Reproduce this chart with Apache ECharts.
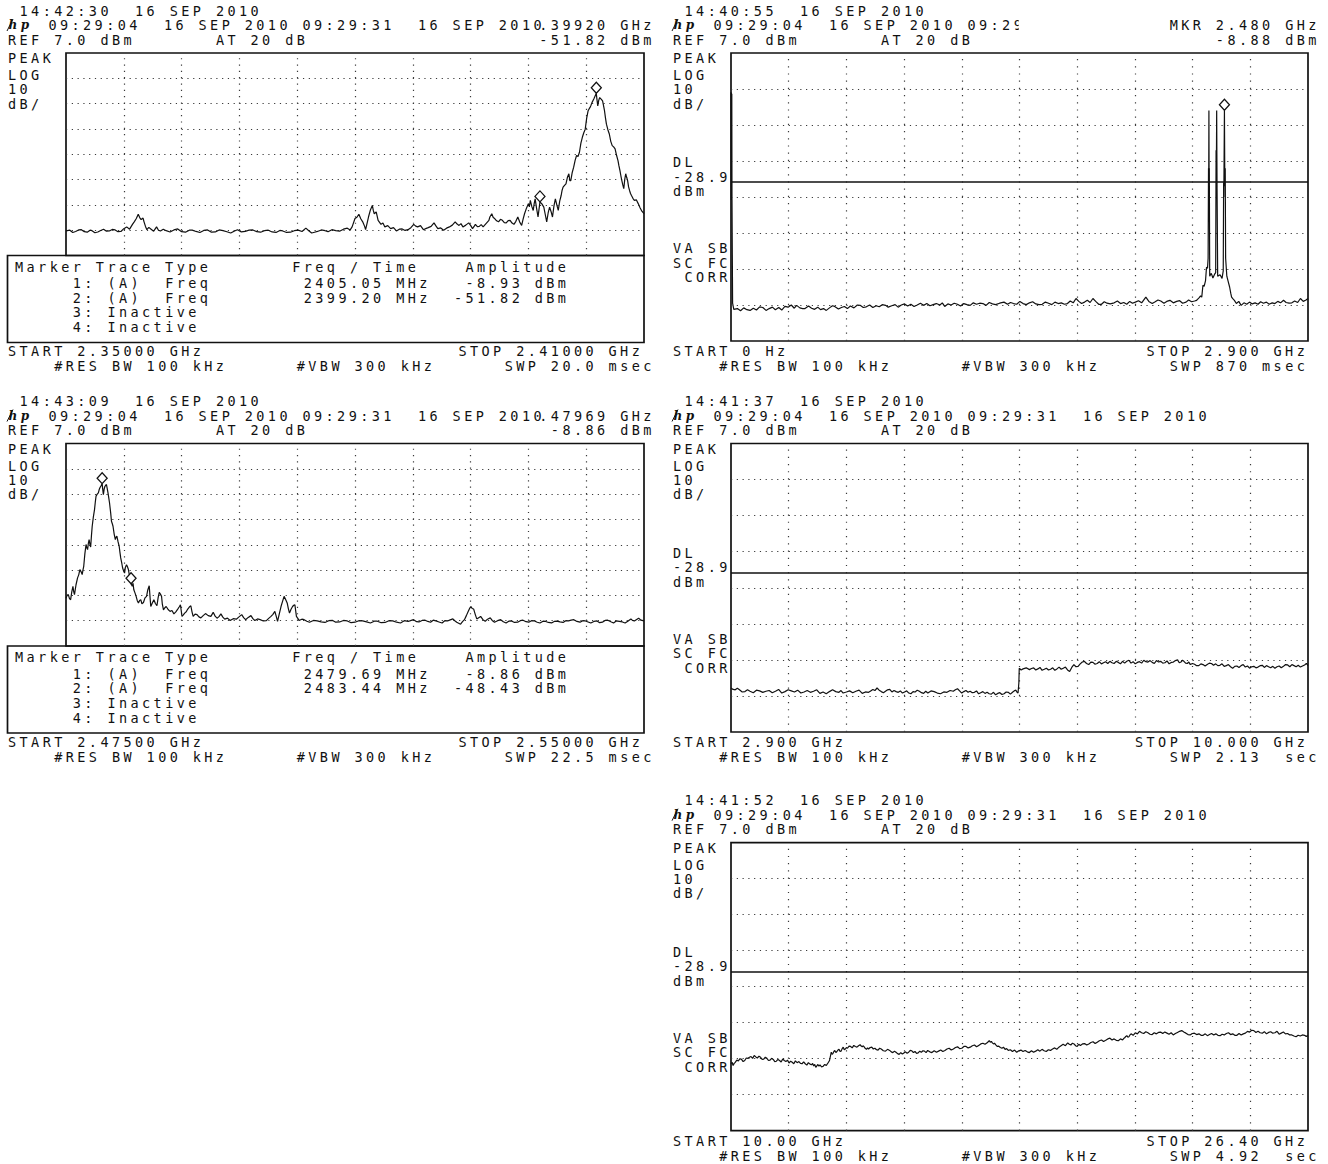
<!DOCTYPE html>
<html><head><meta charset="utf-8">
<script src="https://cdn.jsdelivr.net/npm/echarts@6/dist/echarts.min.js"></script>
<style>
html,body{margin:0;padding:0;background:#fff;}
#main{width:1328px;height:1164px;}
#main text{letter-spacing:3.42px;white-space:pre;}
</style></head><body><div id="main"></div>
<script>
// ---------------- DATA ----------------
// Panel order: A (top-left), B (top-right), C (middle-left), D (middle-right), E (bottom-right)
const stamps = ['14:42:30','14:40:55','14:43:09','14:41:37','14:41:52'];
const startText = ['START 2.35000 GHz','START 0 Hz','START 2.47500 GHz','START 2.900 GHz','START 10.00 GHz'];
const stopText = ['STOP 2.41000 GHz','STOP 2.900 GHz','STOP 2.55000 GHz','STOP 10.000 GHz','STOP 26.40 GHz'];
const stopCols = [39, 41, 39, 40, 41];
const sweepText = ['SWP 20.0 msec','SWP 870 msec','SWP 22.5 msec','SWP 2.13  sec','SWP 4.92  sec'];
const readTop = ['.39920 GHz','MKR 2.480 GHz','.47969 GHz','',''];
const readBottom = ['-51.82 dBm','-8.88 dBm','-8.86 dBm','',''];
const spanStart = [2350, 0, 2475, 2.9, 10];     // MHz, MHz, MHz, GHz, GHz
const spanStop  = [2410, 2900, 2550, 10, 26.4];
const refLevel = 7.0, dbPerDiv = 10, vDivs = 8, hDivs = 10;
const displayLine = -28.9;
const markerTableA = [['2405.05 MHz','-8.93 dBm'],['2399.20 MHz','-51.82 dBm']];
const markerTableC = [['2479.69 MHz','-8.86 dBm'],['2483.44 MHz','-48.43 dBm']];
const markersA = [[2405.05,-8.93],[2399.20,-51.82]];
const markersB = [[2480,-8.88]];
const markersC = [[2479.69,-8.86],[2483.44,-48.43]];

const traceA = [[2350.0,-63.3],[2350.4,-63.0],[2350.7,-63.9],[2351.0,-63.5],[2351.3,-62.9],[2351.6,-62.8],[2351.9,-63.6],[2352.2,-63.8],[2352.5,-63.0],[2352.7,-63.2],[2353.0,-64.0],[2353.3,-63.7],[2353.6,-63.1],[2353.9,-62.6],[2354.2,-63.4],[2354.5,-63.3],[2354.8,-62.7],[2355.1,-62.9],[2355.4,-63.6],[2355.7,-63.5],[2356.0,-62.4],[2356.3,-61.7],[2356.6,-62.6],[2356.9,-60.7],[2357.1,-59.6],[2357.3,-58.4],[2357.5,-56.7],[2357.65,-58.0],[2357.8,-58.8],[2358.0,-58.2],[2358.1,-59.7],[2358.25,-61.5],[2358.4,-62.8],[2358.6,-61.9],[2358.8,-62.5],[2359.1,-63.4],[2359.4,-61.7],[2359.6,-63.0],[2359.8,-63.3],[2360.1,-62.6],[2360.4,-63.2],[2360.8,-63.7],[2361.2,-62.9],[2361.6,-62.5],[2362.0,-63.6],[2362.4,-63.8],[2362.8,-63.0],[2363.1,-63.0],[2363.5,-63.5],[2363.9,-63.9],[2364.3,-63.1],[2364.7,-62.9],[2365.1,-63.8],[2365.5,-63.7],[2365.9,-62.9],[2366.3,-63.2],[2366.7,-63.6],[2367.1,-64.1],[2367.5,-63.3],[2367.8,-62.8],[2368.2,-63.7],[2368.6,-63.5],[2369.0,-63.0],[2369.4,-62.9],[2369.8,-63.6],[2370.2,-63.8],[2370.6,-63.2],[2371.0,-63.0],[2371.4,-63.7],[2371.8,-63.9],[2372.2,-63.1],[2372.5,-63.3],[2372.9,-63.9],[2373.3,-63.8],[2373.7,-63.2],[2374.1,-63.0],[2374.5,-63.5],[2374.9,-62.2],[2375.2,-63.2],[2375.5,-64.1],[2375.8,-63.8],[2376.1,-63.5],[2376.5,-62.9],[2376.9,-63.2],[2377.2,-63.6],[2377.6,-62.8],[2378.0,-63.2],[2378.4,-63.4],[2378.8,-62.6],[2379.2,-62.2],[2379.5,-62.9],[2379.7,-61.7],[2380.0,-58.4],[2380.2,-57.9],[2380.4,-56.7],[2380.6,-58.5],[2380.8,-59.7],[2381.0,-61.5],[2381.1,-62.8],[2381.3,-59.5],[2381.4,-57.8],[2381.6,-55.0],[2381.8,-53.2],[2381.9,-55.2],[2382.0,-56.5],[2382.2,-55.8],[2382.4,-59.1],[2382.7,-60.7],[2382.9,-60.2],[2383.1,-61.7],[2383.4,-61.2],[2383.7,-62.4],[2384.0,-62.0],[2384.3,-63.3],[2384.6,-62.6],[2384.9,-62.5],[2385.2,-63.1],[2385.5,-62.8],[2385.8,-62.0],[2386.1,-60.7],[2386.3,-61.4],[2386.5,-61.7],[2386.8,-61.2],[2387.1,-62.8],[2387.4,-62.3],[2387.6,-62.0],[2387.9,-61.5],[2388.2,-60.1],[2388.4,-61.3],[2388.6,-62.4],[2388.9,-62.1],[2389.2,-63.0],[2389.5,-62.2],[2389.8,-61.7],[2390.1,-61.0],[2390.4,-59.7],[2390.6,-60.6],[2390.8,-61.1],[2391.0,-60.4],[2391.2,-61.7],[2391.5,-61.0],[2391.8,-60.1],[2392.0,-61.1],[2392.2,-62.4],[2392.4,-61.3],[2392.5,-60.7],[2392.7,-61.6],[2392.9,-61.5],[2393.1,-60.8],[2393.3,-61.7],[2393.6,-60.4],[2393.9,-59.1],[2394.0,-57.8],[2394.2,-56.5],[2394.35,-58.0],[2394.5,-58.4],[2394.7,-59.3],[2394.9,-59.7],[2395.1,-58.7],[2395.3,-59.1],[2395.5,-60.0],[2395.7,-60.1],[2395.9,-59.2],[2396.1,-59.1],[2396.3,-60.2],[2396.5,-60.7],[2396.7,-59.5],[2396.9,-57.8],[2397.1,-59.8],[2397.3,-61.1],[2397.45,-58.6],[2397.6,-56.5],[2397.8,-54.3],[2398.0,-52.5],[2398.1,-53.8],[2398.2,-51.2],[2398.35,-53.6],[2398.5,-55.2],[2398.6,-52.5],[2398.7,-50.6],[2398.85,-54.4],[2399.0,-57.8],[2399.2,-51.82],[2399.4,-52.6],[2399.6,-53.9],[2399.75,-56.8],[2399.9,-59.7],[2400.05,-56.2],[2400.2,-53.9],[2400.35,-55.6],[2400.5,-57.8],[2400.65,-53.5],[2400.8,-50.6],[2400.95,-53.0],[2401.1,-55.2],[2401.25,-51.5],[2401.4,-49.3],[2401.5,-47.2],[2401.6,-46.0],[2401.75,-45.3],[2401.9,-44.7],[2402.05,-42.1],[2402.2,-40.7],[2402.3,-43.4],[2402.4,-43.4],[2402.55,-40.2],[2402.7,-38.1],[2402.85,-35.4],[2403.0,-33.5],[2403.15,-33.9],[2403.3,-32.2],[2403.45,-28.6],[2403.6,-26.3],[2403.75,-24.5],[2403.9,-23.1],[2404.05,-18.7],[2404.2,-15.8],[2404.3,-15.1],[2404.4,-14.5],[2404.5,-13.6],[2404.6,-12.6],[2404.8,-11.1],[2405.05,-8.93],[2405.1,-10.8],[2405.2,-13.9],[2405.3,-11.7],[2405.4,-10.6],[2405.55,-11.2],[2405.7,-11.9],[2405.8,-13.8],[2405.9,-15.8],[2406.0,-18.6],[2406.1,-21.1],[2406.25,-23.3],[2406.4,-25.0],[2406.55,-27.9],[2406.7,-29.6],[2406.85,-30.1],[2407.0,-30.9],[2407.15,-33.4],[2407.3,-35.5],[2407.4,-37.6],[2407.5,-39.4],[2407.6,-41.5],[2407.7,-43.4],[2407.8,-45.1],[2407.9,-46.6],[2408.0,-43.0],[2408.1,-40.7],[2408.2,-42.1],[2408.3,-43.4],[2408.4,-45.9],[2408.5,-47.3],[2408.6,-48.5],[2408.7,-49.3],[2408.85,-50.4],[2409.0,-51.2],[2409.2,-51.0],[2409.4,-52.5],[2409.6,-54.2],[2409.8,-55.6],[2410.0,-56.5]];

const traceB = [[0,-3.9],[1,-33.8],[2,-4.1],[3,-33.8],[4,-4.3],[5,-33.8],[8,-62.5],[14,-64.2],[32,-64.0],[48,-64.6],[64,-63.8],[80,-64.3],[96,-64.5],[112,-63.9],[128,-64.4],[144,-63.5],[160,-63.7],[176,-64.5],[192,-64.0],[208,-63.6],[223,-64.3],[240,-63.7],[255,-64.4],[271,-63.4],[287,-63.6],[303,-63.0],[318,-63.9],[330,-63.1],[346,-63.8],[360,-64.0],[372,-64.0],[390,-63.3],[405,-63.9],[420,-64.2],[436,-63.6],[450,-64.3],[465,-64.0],[479,-64.5],[495,-63.8],[510,-63.2],[521,-63.4],[540,-64.1],[555,-63.7],[570,-63.4],[585,-64.0],[600,-63.3],[618,-63.8],[635,-63.0],[649,-63.1],[665,-63.7],[680,-63.5],[697,-63.0],[713,-63.7],[730,-63.2],[745,-63.5],[760,-62.9],[777,-63.1],[790,-63.6],[808,-63.2],[825,-62.9],[840,-63.6],[856,-63.0],[872,-62.7],[888,-63.3],[904,-62.8],[920,-63.4],[936,-63.0],[952,-62.5],[968,-63.1],[984,-62.6],[1000,-63.2],[1016,-62.9],[1032,-62.6],[1050,-63.0],[1062,-62.4],[1074,-63.4],[1090,-62.7],[1106,-63.0],[1122,-62.5],[1138,-62.8],[1154,-63.3],[1170,-62.6],[1186,-62.9],[1202,-63.1],[1218,-62.4],[1234,-62.8],[1250,-62.5],[1266,-62.6],[1282,-63.1],[1298,-62.3],[1314,-62.7],[1330,-62.9],[1350,-62.5],[1372,-62.2],[1390,-62.8],[1405,-62.3],[1420,-62.6],[1436,-62.8],[1452,-62.0],[1468,-62.6],[1484,-62.9],[1500,-62.4],[1516,-62.1],[1532,-62.7],[1548,-62.9],[1564,-62.8],[1580,-62.2],[1596,-62.5],[1612,-62.9],[1628,-62.2],[1645,-62.6],[1660,-62.4],[1676,-62.8],[1691,-62.6],[1705,-61.9],[1720,-62.4],[1734,-61.2],[1748,-62.0],[1762,-62.6],[1777,-62.2],[1791,-61.7],[1805,-62.3],[1819,-61.2],[1833,-62.0],[1848,-62.8],[1862,-62.8],[1876,-62.1],[1890,-62.5],[1906,-62.7],[1926,-62.4],[1942,-61.9],[1958,-62.6],[1974,-62.3],[1989,-62.8],[2004,-62.0],[2018,-62.5],[2032,-62.2],[2048,-61.8],[2064,-62.4],[2085,-60.8],[2100,-62.0],[2117,-62.6],[2132,-62.1],[2146,-61.6],[2160,-61.9],[2176,-62.5],[2190,-62.0],[2206,-61.7],[2223,-62.4],[2240,-62.0],[2255,-61.8],[2270,-62.5],[2287,-62.2],[2300,-61.6],[2315,-62.1],[2330,-61.9],[2340,-61.7],[2352,-61.0],[2360,-60.5],[2366,-60.8],[2372,-57.5],[2378,-57.8],[2385,-56.2],[2390,-52.5],[2395,-52.8],[2398,-50.0],[2400,-25.0],[2401,-29.3],[2402,-9.0],[2403,-27.5],[2404,-25.0],[2406,-55.0],[2414,-54.2],[2422,-55.5],[2430,-54.5],[2436,-54.0],[2438,-20.0],[2439,-31.0],[2441,-9.0],[2442,-21.0],[2443,-31.0],[2446,-55.0],[2458,-54.6],[2468,-55.6],[2474,-53.5],[2476,-29.0],[2477,-33.0],[2480,-8.88],[2482,-30.0],[2484,-25.0],[2486,-50.0],[2492,-55.0],[2499,-56.5],[2506,-58.0],[2512,-59.8],[2516,-60.8],[2523,-61.3],[2530,-61.7],[2540,-62.6],[2552,-62.0],[2564,-63.1],[2578,-62.4],[2592,-62.8],[2606,-62.2],[2620,-62.7],[2634,-62.4],[2649,-62.8],[2662,-62.1],[2676,-62.5],[2691,-62.2],[2705,-62.8],[2720,-62.4],[2734,-62.6],[2748,-62.0],[2762,-62.4],[2777,-61.7],[2790,-62.3],[2805,-62.5],[2819,-62.4],[2833,-61.9],[2848,-62.3],[2862,-61.2],[2876,-62.0],[2890,-61.6],[2900,-61.2]];

const traceC = [[2475.0,-54.1],[2475.15,-53.0],[2475.3,-52.7],[2475.45,-54.3],[2475.6,-54.7],[2475.75,-51.6],[2475.9,-49.4],[2476.0,-51.5],[2476.1,-52.7],[2476.3,-48.8],[2476.5,-46.1],[2476.65,-44.9],[2476.8,-42.8],[2476.95,-43.6],[2477.1,-44.8],[2477.2,-43.0],[2477.3,-41.5],[2477.45,-36.5],[2477.6,-32.9],[2477.7,-34.2],[2477.8,-34.9],[2477.9,-32.5],[2478.0,-31.0],[2478.1,-32.8],[2478.2,-33.9],[2478.3,-29.5],[2478.4,-25.7],[2478.55,-22.0],[2478.7,-19.1],[2478.8,-16.2],[2478.9,-13.8],[2479.05,-13.0],[2479.2,-12.5],[2479.3,-11.3],[2479.4,-10.5],[2479.55,-9.7],[2479.69,-8.86],[2479.77,-11.2],[2479.85,-13.2],[2479.95,-11.0],[2480.05,-9.9],[2480.15,-9.5],[2480.25,-9.2],[2480.35,-10.8],[2480.45,-12.5],[2480.55,-14.5],[2480.65,-16.5],[2480.8,-20.5],[2480.9,-23.7],[2481.0,-24.6],[2481.1,-25.7],[2481.25,-28.8],[2481.4,-31.0],[2481.5,-30.0],[2481.6,-29.6],[2481.75,-31.8],[2481.9,-33.6],[2482.0,-36.0],[2482.1,-38.2],[2482.25,-40.5],[2482.35,-42.2],[2482.5,-43.6],[2482.6,-44.2],[2482.7,-42.0],[2482.85,-40.9],[2482.95,-41.5],[2483.1,-42.8],[2483.25,-45.5],[2483.44,-48.43],[2483.6,-49.4],[2483.7,-48.2],[2483.8,-50.8],[2483.95,-52.0],[2484.1,-53.4],[2484.25,-55.1],[2484.4,-56.0],[2484.55,-55.0],[2484.7,-54.7],[2484.85,-56.3],[2485.05,-55.8],[2485.25,-54.0],[2485.45,-53.4],[2485.6,-51.0],[2485.8,-49.2],[2485.9,-53.5],[2486.0,-57.4],[2486.2,-56.0],[2486.4,-54.7],[2486.6,-56.2],[2486.8,-57.1],[2486.95,-54.0],[2487.1,-51.8],[2487.25,-52.5],[2487.4,-53.4],[2487.5,-56.5],[2487.65,-58.7],[2487.8,-58.0],[2488.0,-57.4],[2488.25,-58.6],[2488.5,-59.3],[2488.75,-59.0],[2489.0,-60.3],[2489.25,-59.5],[2489.5,-58.4],[2489.7,-57.5],[2489.85,-56.7],[2490.05,-61.3],[2490.2,-60.8],[2490.4,-60.0],[2490.6,-59.5],[2490.8,-58.4],[2491.0,-57.6],[2491.2,-57.1],[2491.35,-59.5],[2491.5,-61.3],[2491.75,-60.4],[2492.0,-60.6],[2492.25,-61.5],[2492.5,-61.9],[2492.8,-61.0],[2493.1,-60.2],[2493.45,-61.0],[2493.8,-61.3],[2493.95,-60.5],[2494.1,-59.7],[2494.35,-61.2],[2494.6,-62.0],[2494.85,-61.4],[2495.1,-60.3],[2495.35,-61.6],[2495.6,-62.4],[2495.95,-62.0],[2496.3,-62.9],[2496.7,-62.2],[2497.1,-62.4],[2497.45,-61.5],[2497.8,-60.6],[2498.05,-61.8],[2498.3,-62.6],[2498.65,-61.7],[2499.0,-61.0],[2499.25,-62.2],[2499.5,-62.9],[2499.85,-62.3],[2500.2,-62.6],[2500.6,-63.1],[2501.0,-63.0],[2501.3,-62.1],[2501.6,-61.3],[2501.85,-60.5],[2502.1,-59.3],[2502.3,-61.5],[2502.45,-63.3],[2502.7,-60.0],[2502.9,-57.4],[2503.1,-55.4],[2503.3,-53.4],[2503.5,-54.6],[2503.7,-56.0],[2503.85,-58.2],[2504.0,-60.0],[2504.2,-58.5],[2504.4,-57.4],[2504.55,-56.9],[2504.7,-56.7],[2504.8,-59.0],[2504.9,-61.3],[2505.1,-62.2],[2505.25,-62.9],[2505.6,-62.4],[2505.9,-62.6],[2506.25,-63.2],[2506.6,-63.6],[2507.1,-62.9],[2507.6,-63.1],[2508.1,-63.5],[2508.6,-63.7],[2509.1,-63.0],[2509.6,-62.9],[2510.0,-63.6],[2510.5,-63.5],[2511.0,-62.9],[2511.5,-63.1],[2512.0,-63.8],[2512.5,-63.6],[2513.0,-63.0],[2513.5,-63.1],[2514.0,-63.5],[2514.5,-63.9],[2515.0,-63.2],[2515.4,-63.2],[2515.9,-63.8],[2516.4,-63.7],[2516.9,-63.0],[2517.4,-63.1],[2517.9,-63.6],[2518.4,-63.9],[2518.9,-63.0],[2519.4,-63.3],[2519.8,-62.9],[2520.1,-62.6],[2520.5,-63.4],[2520.8,-63.5],[2521.2,-62.9],[2521.6,-62.8],[2521.95,-63.3],[2522.3,-63.6],[2522.65,-62.8],[2523.0,-63.1],[2523.4,-63.5],[2523.8,-63.9],[2524.15,-63.0],[2524.5,-63.1],[2524.85,-62.7],[2525.2,-62.3],[2525.45,-63.0],[2525.7,-63.6],[2525.95,-64.0],[2526.2,-64.4],[2526.45,-63.4],[2526.7,-62.6],[2526.95,-61.0],[2527.2,-59.3],[2527.4,-58.0],[2527.55,-57.4],[2527.7,-58.2],[2527.9,-58.4],[2528.1,-60.5],[2528.3,-62.3],[2528.55,-61.8],[2528.8,-61.3],[2529.1,-62.6],[2529.4,-63.2],[2529.7,-62.4],[2530.05,-61.9],[2530.3,-62.9],[2530.6,-63.6],[2531.0,-63.0],[2531.4,-62.6],[2531.75,-63.4],[2532.1,-63.9],[2532.45,-63.2],[2532.8,-63.1],[2533.2,-63.7],[2533.6,-63.6],[2533.95,-63.0],[2534.3,-62.8],[2534.7,-63.4],[2535.05,-63.6],[2535.4,-63.0],[2535.8,-63.1],[2536.15,-63.6],[2536.5,-63.9],[2536.9,-63.2],[2537.25,-63.3],[2537.6,-63.7],[2538.0,-63.9],[2538.35,-63.3],[2538.7,-63.2],[2539.1,-63.5],[2539.5,-63.7],[2539.85,-63.0],[2540.2,-63.1],[2540.55,-62.8],[2540.9,-62.6],[2541.3,-63.3],[2541.7,-63.6],[2542.05,-63.0],[2542.4,-63.1],[2542.75,-63.5],[2543.1,-63.9],[2543.5,-63.3],[2543.9,-63.1],[2544.25,-63.8],[2544.6,-63.6],[2544.95,-62.9],[2545.3,-62.8],[2545.7,-63.4],[2546.05,-63.9],[2546.4,-63.1],[2546.8,-63.3],[2547.2,-63.5],[2547.55,-63.9],[2547.9,-63.2],[2548.3,-62.3],[2548.5,-62.9],[2548.75,-63.1],[2549.0,-62.6],[2549.3,-62.0],[2549.6,-62.8],[2550.0,-63.1]];

const traceD = [[2.900,-60.8],[2.926,-61.2],[2.952,-61.3],[2.978,-60.9],[3.004,-61.3],[3.038,-61.9],[3.072,-61.8],[3.103,-61.3],[3.134,-61.7],[3.174,-62.1],[3.213,-61.4],[3.252,-61.6],[3.291,-62.0],[3.330,-61.7],[3.369,-61.5],[3.408,-62.1],[3.447,-61.7],[3.486,-61.2],[3.525,-62.2],[3.564,-61.8],[3.603,-61.3],[3.642,-61.6],[3.681,-61.9],[3.720,-61.4],[3.760,-62.2],[3.799,-61.9],[3.838,-61.5],[3.877,-62.0],[3.916,-61.7],[3.955,-61.3],[3.994,-62.3],[4.033,-61.9],[4.072,-62.4],[4.111,-61.8],[4.150,-61.3],[4.189,-61.8],[4.228,-62.0],[4.254,-61.5],[4.280,-62.2],[4.320,-61.9],[4.359,-61.6],[4.398,-62.1],[4.437,-61.7],[4.476,-61.4],[4.515,-62.3],[4.554,-61.9],[4.593,-62.0],[4.619,-61.6],[4.645,-61.2],[4.671,-61.5],[4.697,-60.8],[4.723,-61.4],[4.749,-61.8],[4.775,-62.1],[4.801,-61.7],[4.827,-61.3],[4.853,-61.2],[4.880,-61.9],[4.906,-61.5],[4.932,-61.8],[4.958,-62.0],[4.984,-61.6],[5.010,-62.2],[5.036,-61.9],[5.062,-61.6],[5.088,-62.2],[5.114,-62.4],[5.140,-61.8],[5.166,-61.9],[5.192,-61.4],[5.218,-61.7],[5.244,-62.1],[5.270,-62.3],[5.296,-61.7],[5.322,-62.2],[5.361,-61.6],[5.400,-61.8],[5.439,-62.2],[5.478,-62.4],[5.518,-61.9],[5.557,-62.0],[5.596,-61.5],[5.635,-61.7],[5.661,-61.3],[5.687,-61.0],[5.713,-61.6],[5.739,-62.2],[5.765,-61.8],[5.791,-61.5],[5.817,-62.0],[5.843,-61.7],[5.869,-62.1],[5.895,-62.0],[5.921,-61.6],[5.947,-62.4],[5.973,-62.1],[5.999,-61.8],[6.025,-62.3],[6.051,-62.0],[6.077,-62.4],[6.103,-62.5],[6.130,-62.0],[6.156,-62.7],[6.182,-62.3],[6.208,-62.1],[6.234,-62.6],[6.260,-62.4],[6.286,-61.9],[6.312,-62.0],[6.338,-62.5],[6.364,-62.0],[6.385,-61.6],[6.406,-61.4],[6.420,-62.0],[6.432,-62.2],[6.442,-59.4],[6.447,-55.3],[6.470,-55.8],[6.494,-55.5],[6.533,-55.2],[6.572,-55.7],[6.598,-55.4],[6.624,-55.2],[6.650,-55.8],[6.676,-55.5],[6.702,-55.1],[6.728,-55.9],[6.755,-55.6],[6.781,-55.3],[6.807,-55.8],[6.833,-55.6],[6.859,-55.2],[6.885,-55.9],[6.911,-55.5],[6.937,-55.0],[6.963,-55.6],[6.989,-55.3],[7.015,-55.0],[7.041,-55.8],[7.067,-56.2],[7.093,-55.1],[7.119,-54.3],[7.145,-54.9],[7.171,-54.8],[7.197,-54.1],[7.223,-53.6],[7.249,-53.4],[7.275,-54.0],[7.302,-54.3],[7.328,-53.6],[7.354,-53.7],[7.380,-54.2],[7.406,-54.0],[7.432,-53.5],[7.458,-54.1],[7.484,-53.8],[7.510,-53.5],[7.536,-54.0],[7.562,-53.4],[7.588,-53.8],[7.614,-54.0],[7.640,-53.4],[7.666,-53.7],[7.692,-54.1],[7.718,-53.4],[7.744,-53.9],[7.770,-53.4],[7.796,-53.1],[7.822,-53.9],[7.848,-53.5],[7.874,-54.1],[7.900,-53.7],[7.927,-53.5],[7.953,-53.9],[7.979,-53.1],[8.005,-53.5],[8.031,-53.6],[8.057,-53.2],[8.083,-53.7],[8.109,-54.0],[8.135,-53.2],[8.161,-53.6],[8.187,-53.4],[8.213,-53.9],[8.239,-53.8],[8.265,-53.3],[8.291,-54.1],[8.317,-53.7],[8.343,-53.6],[8.369,-53.2],[8.395,-53.0],[8.416,-53.8],[8.437,-53.6],[8.455,-53.1],[8.473,-53.4],[8.494,-53.9],[8.515,-54.0],[8.533,-53.6],[8.552,-54.3],[8.578,-54.0],[8.604,-54.2],[8.630,-54.6],[8.656,-54.6],[8.682,-54.1],[8.708,-54.3],[8.734,-54.7],[8.760,-54.3],[8.786,-53.9],[8.812,-54.0],[8.838,-54.5],[8.864,-54.1],[8.890,-54.6],[8.916,-54.5],[8.942,-54.1],[8.969,-54.8],[8.995,-54.6],[9.021,-54.3],[9.047,-54.9],[9.073,-55.3],[9.099,-54.8],[9.125,-54.7],[9.151,-55.1],[9.177,-54.6],[9.203,-54.3],[9.229,-55.0],[9.255,-54.7],[9.281,-55.3],[9.307,-54.9],[9.333,-54.8],[9.359,-55.2],[9.385,-55.0],[9.411,-54.6],[9.437,-54.5],[9.463,-55.1],[9.489,-54.6],[9.515,-54.9],[9.541,-55.2],[9.567,-54.8],[9.593,-55.3],[9.619,-54.9],[9.645,-54.7],[9.671,-55.2],[9.698,-54.8],[9.724,-54.3],[9.750,-54.4],[9.776,-54.9],[9.802,-54.3],[9.828,-54.6],[9.854,-54.9],[9.880,-54.5],[9.906,-55.0],[9.932,-54.7],[9.958,-54.4],[9.980,-54.0],[10.000,-54.6]];

const traceE = [[10.00,-54.4],[10.03,-54.0],[10.06,-54.9],[10.09,-54.3],[10.12,-54.0],[10.165,-53.4],[10.21,-53.6],[10.255,-53.0],[10.30,-53.2],[10.345,-53.8],[10.39,-53.5],[10.435,-52.8],[10.48,-52.9],[10.525,-52.6],[10.57,-52.4],[10.615,-52.9],[10.66,-52.1],[10.705,-52.5],[10.75,-52.8],[10.795,-52.3],[10.84,-52.6],[10.885,-53.2],[10.93,-53.1],[10.975,-52.6],[11.02,-52.9],[11.065,-53.5],[11.11,-53.4],[11.155,-52.9],[11.20,-53.2],[11.245,-53.8],[11.29,-53.7],[11.335,-53.2],[11.38,-53.5],[11.425,-53.9],[11.47,-53.1],[11.515,-53.5],[11.56,-53.8],[11.605,-53.4],[11.65,-54.2],[11.695,-53.7],[11.74,-54.0],[11.785,-54.4],[11.83,-53.6],[11.88,-54.1],[11.93,-53.8],[11.975,-54.3],[12.02,-54.4],[12.065,-53.9],[12.11,-54.4],[12.155,-54.8],[12.20,-54.1],[12.245,-54.5],[12.29,-54.7],[12.32,-54.3],[12.35,-55.0],[12.38,-54.6],[12.41,-55.4],[12.44,-55.0],[12.47,-54.6],[12.50,-55.1],[12.53,-54.7],[12.575,-55.3],[12.62,-55.1],[12.665,-54.6],[12.71,-54.9],[12.74,-54.4],[12.77,-54.0],[12.80,-53.5],[12.85,-51.2],[12.875,-51.8],[12.90,-51.5],[12.925,-51.0],[12.95,-50.7],[12.98,-51.3],[13.01,-51.0],[13.04,-50.6],[13.07,-50.4],[13.10,-51.0],[13.13,-50.9],[13.16,-50.2],[13.19,-49.8],[13.22,-50.5],[13.25,-50.3],[13.28,-49.9],[13.31,-50.1],[13.355,-49.5],[13.40,-49.6],[13.445,-50.0],[13.49,-49.3],[13.535,-49.6],[13.58,-49.8],[13.625,-49.4],[13.67,-49.1],[13.70,-49.5],[13.73,-49.7],[13.76,-49.4],[13.79,-49.8],[13.82,-50.2],[13.85,-50.4],[13.88,-50.0],[13.91,-50.3],[13.955,-49.9],[14.00,-49.8],[14.045,-50.3],[14.09,-50.1],[14.135,-50.5],[14.18,-50.6],[14.225,-50.1],[14.27,-50.3],[14.33,-50.8],[14.39,-50.9],[14.45,-50.4],[14.51,-50.7],[14.555,-51.1],[14.60,-51.3],[14.645,-50.9],[14.69,-51.2],[14.735,-51.6],[14.78,-51.8],[14.825,-51.3],[14.87,-51.7],[14.915,-51.4],[14.96,-51.1],[15.005,-51.5],[15.05,-51.2],[15.095,-50.7],[15.14,-50.8],[15.185,-51.3],[15.23,-51.0],[15.275,-51.5],[15.32,-51.4],[15.365,-50.9],[15.41,-51.2],[15.455,-50.8],[15.50,-50.9],[15.545,-51.3],[15.59,-50.7],[15.65,-51.1],[15.71,-51.3],[15.775,-50.8],[15.84,-51.2],[15.90,-50.9],[15.96,-50.6],[16.02,-51.0],[16.08,-50.7],[16.14,-50.3],[16.20,-50.1],[16.26,-50.6],[16.32,-50.3],[16.38,-49.9],[16.44,-49.7],[16.50,-50.2],[16.56,-50.1],[16.62,-49.6],[16.68,-49.6],[16.74,-50.0],[16.80,-49.8],[16.86,-49.4],[16.92,-49.2],[16.98,-49.7],[17.04,-49.3],[17.10,-48.9],[17.16,-48.7],[17.22,-49.0],[17.28,-48.6],[17.31,-48.3],[17.34,-48.0],[17.37,-48.4],[17.40,-48.2],[17.43,-48.6],[17.46,-48.9],[17.49,-48.7],[17.52,-49.1],[17.565,-49.6],[17.61,-49.5],[17.655,-49.9],[17.70,-50.1],[17.745,-49.8],[17.79,-50.4],[17.835,-50.2],[17.88,-50.7],[17.94,-50.5],[18.00,-51.0],[18.06,-50.6],[18.12,-51.2],[18.18,-50.8],[18.24,-50.6],[18.30,-51.0],[18.36,-50.7],[18.42,-51.1],[18.48,-51.3],[18.54,-50.8],[18.60,-51.2],[18.66,-50.9],[18.72,-50.5],[18.78,-50.9],[18.84,-50.4],[18.90,-50.8],[18.96,-51.0],[19.02,-50.5],[19.08,-50.7],[19.14,-50.3],[19.20,-50.0],[19.26,-50.4],[19.32,-49.8],[19.38,-49.4],[19.44,-49.0],[19.505,-49.4],[19.57,-48.6],[19.615,-49.0],[19.66,-49.2],[19.705,-48.7],[19.75,-48.9],[19.795,-49.4],[19.84,-49.6],[19.885,-49.0],[19.93,-49.3],[19.99,-48.9],[20.05,-48.8],[20.11,-49.2],[20.17,-48.9],[20.23,-48.5],[20.29,-48.3],[20.35,-48.8],[20.41,-48.4],[20.47,-48.0],[20.53,-47.8],[20.59,-48.2],[20.65,-47.9],[20.71,-47.5],[20.77,-47.3],[20.83,-47.8],[20.89,-47.5],[20.95,-47.9],[21.01,-48.0],[21.07,-47.5],[21.13,-47.8],[21.16,-47.4],[21.19,-47.2],[21.22,-46.8],[21.25,-46.6],[21.28,-47.0],[21.31,-46.9],[21.34,-46.4],[21.37,-46.1],[21.43,-46.5],[21.49,-45.8],[21.55,-46.1],[21.61,-45.4],[21.67,-45.8],[21.73,-46.0],[21.79,-45.5],[21.85,-45.8],[21.91,-46.2],[21.97,-46.3],[22.03,-45.8],[22.09,-46.1],[22.15,-45.7],[22.21,-45.6],[22.27,-46.0],[22.33,-45.6],[22.39,-45.9],[22.45,-46.2],[22.51,-45.8],[22.57,-46.4],[22.63,-46.0],[22.69,-45.7],[22.75,-45.4],[22.81,-45.2],[22.87,-45.6],[22.93,-45.9],[22.99,-46.3],[23.05,-46.4],[23.11,-46.0],[23.17,-45.9],[23.235,-46.3],[23.30,-46.1],[23.36,-46.5],[23.42,-46.5],[23.48,-46.1],[23.54,-46.6],[23.60,-46.3],[23.66,-46.0],[23.72,-46.4],[23.78,-46.1],[23.84,-46.5],[23.90,-46.6],[23.96,-46.2],[24.02,-46.4],[24.08,-46.0],[24.14,-45.8],[24.20,-46.3],[24.26,-46.1],[24.32,-46.5],[24.38,-46.5],[24.44,-46.0],[24.50,-46.4],[24.56,-46.1],[24.62,-45.9],[24.68,-45.4],[24.74,-45.6],[24.80,-45.1],[24.86,-45.2],[24.92,-45.7],[24.98,-45.4],[25.04,-45.8],[25.10,-45.9],[25.16,-45.5],[25.22,-46.1],[25.28,-45.7],[25.34,-45.5],[25.40,-45.9],[25.46,-45.8],[25.52,-45.4],[25.58,-46.2],[25.64,-45.9],[25.70,-45.6],[25.76,-46.1],[25.82,-46.0],[25.88,-46.4],[25.94,-46.4],[26.00,-46.7],[26.06,-46.9],[26.12,-46.5],[26.18,-46.7],[26.24,-46.4],[26.30,-46.5],[26.35,-46.8],[26.40,-46.6]];

// ---------------- LAYOUT ----------------
const traces = [traceA, traceB, traceC, traceD, traceE];
const markers = [markersA, markersB, markersC, [], []];
const hasDL = [false, true, false, true, true];
const originX = [8, 673, 8, 673, 673];
const originY = [0, 0, 390.5, 390.5, 789.7];
const gridBox = [
  [66, 53, 578, 202.5],
  [731, 53, 577, 288],
  [66, 443.5, 578, 202.5],
  [731, 443.5, 577, 288.5],
  [731, 842.7, 577, 288]
];
const PITCH = 11.55;
const FONT = '13.5px "DejaVu Sans Mono", "Liberation Mono", monospace';
const INK = '#111';
const DOT = '#3a3a3a';

function txt(x, y, s) {
  return {type:'text', x:x, y:y, silent:true,
    style:{text:s, font:FONT, fill:INK, align:'left', verticalAlign:'middle', textAlign:'left', textVerticalAlign:'middle'}};
}

const grids = [], xAxes = [], yAxes = [], series = [], graphics = [];
const yMin = refLevel - dbPerDiv * vDivs;

for (let i = 0; i < 5; i++) {
  const g = gridBox[i];
  grids.push({left:g[0], top:g[1], width:g[2], height:g[3], show:true, borderColor:INK, borderWidth:1.7, backgroundColor:'rgba(0,0,0,0)'});
  xAxes.push({type:'value', gridIndex:i, min:spanStart[i], max:spanStop[i], show:false});
  yAxes.push({type:'value', gridIndex:i, min:yMin, max:refLevel, show:false});

  const hSp = g[2] / hDivs / 10;          // dot pitch along horizontal graticule
  const vSp = g[3] / vDivs / (g[3] < 250 ? 4 : 5);
  const ml = [];
  for (let k = 1; k < vDivs; k++) {
    ml.push({yAxis: refLevel - k * dbPerDiv, lineStyle:{type:[1.2, hSp - 1.2], color:DOT, width:1.2}});
  }
  for (let k = 1; k < hDivs; k++) {
    ml.push({xAxis: spanStart[i] + k * (spanStop[i] - spanStart[i]) / hDivs, lineStyle:{type:[1.2, vSp - 1.2], color:DOT, width:1.2}});
  }
  if (hasDL[i]) ml.push({yAxis: displayLine, lineStyle:{type:'solid', color:INK, width:1.7}});

  series.push({
    type:'line', xAxisIndex:i, yAxisIndex:i, data:traces[i], showSymbol:false, symbol:'none',
    lineStyle:{color:INK, width:1.2}, silent:true, animation:false, z:3,
    emphasis:{disabled:true},
    markLine:{silent:true, symbol:['none','none'], label:{show:false}, animation:false, emphasis:{disabled:true}, z:2, data:ml},
    markPoint:{silent:true, symbol:'diamond', symbolSize:[10,11], symbolOffset:[0,-5.5], animation:false,
      label:{show:false}, itemStyle:{color:'#fff', borderColor:INK, borderWidth:1.3},
      data: markers[i].map(m => ({coord:m}))}
  });

  // ---- texts ----
  const ox = originX[i], oy = originY[i];
  const cx = c => ox + c * PITCH;
  graphics.push(txt(cx(1), oy + 10.5, stamps[i]));
  graphics.push(txt(cx(11), oy + 10.5, '16 SEP 2010'));
  graphics.push({type:'text', x:ox + 0.5, y:oy + 25, silent:true,
    style:{text:'hp', font:'italic bold 12px "DejaVu Serif"', fill:INK, align:'left', verticalAlign:'middle', textAlign:'left', textVerticalAlign:'middle'}});
  graphics.push({type:'line', silent:true, shape:{x1:ox - 1, y1:oy + 31, x2:ox + 5, y2:oy + 19}, style:{stroke:INK, lineWidth:1}});
  graphics.push(txt(cx(3.5), oy + 25, i === 1 ? '09:29:04  16 SEP 2010 09:29' : '09:29:04  16 SEP 2010 09:29:31  16 SEP 2010'));
  if (readTop[i]) graphics.push(txt(cx(56 - readTop[i].length), oy + 25, readTop[i]));
  graphics.push(txt(cx(0), oy + 39.5, 'REF 7.0 dBm'));
  graphics.push(txt(cx(18), oy + 39.5, 'AT 20 dB'));
  if (readBottom[i]) graphics.push(txt(cx(56 - readBottom[i].length), oy + 39.5, readBottom[i]));
  graphics.push(txt(cx(0), oy + 58, 'PEAK'));
  graphics.push(txt(cx(0), oy + 75, 'LOG'));
  graphics.push(txt(cx(0), oy + 89.3, '10'));
  graphics.push(txt(cx(0), oy + 103.5, 'dB/'));
  if (hasDL[i]) {
    graphics.push(txt(cx(0), oy + 162, 'DL'));
    graphics.push(txt(cx(0), oy + 176.5, '-28.9'));
    graphics.push(txt(cx(0), oy + 191, 'dBm'));
    graphics.push(txt(cx(0), oy + 248, 'VA SB'));
    graphics.push(txt(cx(0), oy + 262.5, 'SC FC'));
    graphics.push(txt(cx(1), oy + 277, 'CORR'));
  }
  graphics.push(txt(cx(0), oy + 351.3, startText[i]));
  graphics.push(txt(cx(stopCols[i]), oy + 351.3, stopText[i]));
  graphics.push(txt(cx(4), oy + 366, '#RES BW 100 kHz'));
  graphics.push(txt(cx(25), oy + 366, '#VBW 300 kHz'));
  graphics.push(txt(cx(43), oy + 366, sweepText[i]));

  // ---- marker tables ----
  if (i === 0 || i === 2) {
    const tab = i === 0 ? markerTableA : markerTableC;
    const top = g[1] + g[3];
    graphics.push({type:'rect', silent:true, shape:{x:ox - 0.5, y:top, width:g[0] + g[2] - ox + 0.5, height:87},
      style:{fill:'none', stroke:INK, lineWidth:1.7}});
    const tx = c => ox + 7 + c * PITCH;
    graphics.push(txt(tx(0), oy + 266.5, 'Marker Trace Type'));
    graphics.push(txt(tx(24), oy + 266.5, 'Freq / Time'));
    graphics.push(txt(tx(39), oy + 266.5, 'Amplitude'));
    const rows = [283, 297.8];
    for (let r = 0; r < 2; r++) {
      graphics.push(txt(tx(5), oy + rows[r], (r + 1) + ': (A)'));
      graphics.push(txt(tx(13), oy + rows[r], 'Freq'));
      graphics.push(txt(tx(25), oy + rows[r], tab[r][0]));
      graphics.push(txt(tx(48 - tab[r][1].length), oy + rows[r], tab[r][1]));
    }
    graphics.push(txt(tx(5), oy + 312.4, '3: Inactive'));
    graphics.push(txt(tx(5), oy + 327, '4: Inactive'));
  }
}
// partially hidden last glyph of the truncated timestamp in panel B
graphics.push({type:'rect', silent:true, z:10, shape:{x:673 + 29.5 * PITCH + 5, y:16, width:40, height:18}, style:{fill:'#fff'}});

const chart = echarts.init(document.getElementById('main'), null, {renderer:'svg', width:1328, height:1164});
chart.setOption({
  animation:false,
  backgroundColor:'#fff',
  grid:grids, xAxis:xAxes, yAxis:yAxes, series:series,
  graphic:{elements:graphics}
});
</script></body></html>
